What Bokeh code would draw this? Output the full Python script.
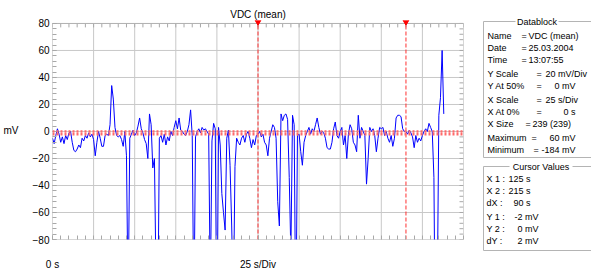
from bokeh.plotting import figure
from bokeh.models import Range1d, FixedTicker, Span
from bokeh.layouts import row, column
from bokeh.embed import file_html
from bokeh.resources import INLINE
from bokeh.core.properties import value

# ---------------- data ----------------
vdc_mv = [
    -5, -9, -3, 2, -2, -8, -4, -9, -3, -6, -1, 0, -8, -14, -15, -13, -10, -12, -5, -7,
    -3, -5, -1, -4, -2, -6, -18, -8, 0, -5, -11, -11, -3, -2, -3, 5, 34, 24, 3, -3,
    -4, -3, -6, -11, 0, -18, -130, -5, -2, 1, -3, -1, 4, 10, 2, -1, -6, -9, -20, 13,
    5, -27, -20, -110, -150, -5, -3, -8, -2, -10, -4, -7, 0, -3, 3, 8, 2, 10, 1, 0,
    -2, -3, 0, 5, 16, -3, -140, -4, 0, 2, -1, 3, 1, 2, 0, -2, -120, -7, 6, 2,
    -160, 3, -10, -46, -60, -73, -5, 1, -25, -70, -130, -26, -5, -8, -10, -5, -3, -8, -2, 0,
    -5, -12, -6, -10, -3, -2, 0, -4, -2, -8, -10, -18, -5, 0, 5, 3, -5, -52, -70, 13,
    8, 12, 13, 9, -34, -90, 12, 5, -150, -3, -2, -15, -25, -8, -3, 0, 3, -2, 2, 0,
    5, 10, 3, -2, 0, -1, -5, -12, -13, -13, -8, 2, 7, -3, -5, 0, 3, -10, -3, -20,
    -2, 5, 2, -8, -10, -15, 12, -5, 3, 0, -3, -39, -20, 3, 0, 2, -3, -15, -5, 3,
    2, 3, -3, 0, -5, -8, -3, -11, -5, 10, 12, 12, 11, 2, 0, 0, -2, 1, -1, -4,
    -12, -3, -8, -5, -7, -3, 0, 2, 0, 6, 3, 0, -34, -184, -130, 12, 25, 60, 13,
]
time_s = list(range(len(vdc_mv)))

y_ticks = [-80, -60, -40, -20, 0, 20, 40, 60, 80]
y_minor = list(range(-80, 81, 4))
x_ticks = [0, 25, 50, 75, 100, 125, 150, 175, 200, 225, 250]
x_minor = list(range(0, 251, 5))

cursor_x = [125, 215]
cursor_y = [-2, 0]

title_text = "VDC (mean)"
y_unit = "mV"
x_axis_ticks = [0, 125]
x_axis_labels = ["0 s", "25 s/Div"]

datablock_labels = ["Name", "Date", "Time", "Y Scale", "Y At 50%", "X Scale", "X At 0%", "X Size", "Maximum", "Minimum"]
datablock_values = ["VDC (mean)", "25.03.2004", "13:07:55", "20 mV/Div", "0 mV", "25 s/Div", "0 s", "239 (239)", "60 mV", "-184 mV"]
cursor_labels = ["X 1 :", "X 2 :", "dX :", "Y 1 :", "Y 2 :", "dY :"]
cursor_values = ["125 s", "215 s", "90 s", "-2 mV", "0 mV", "2 mV"]

FONT = "Liberation Sans"
PX_PER_MV = 219 / 160.0          # frame pixels per mV
HEADROOM = 3 / PX_PER_MV          # room above the top border for cursor markers
TICK_MV = 4 / PX_PER_MV
TICK_S = 4 / (411 / 250)

# ---------------- main plot ----------------
p = figure(width=478, height=272, x_range=Range1d(x_ticks[0], x_ticks[-1]),
           y_range=Range1d(y_ticks[0], y_ticks[-1] + HEADROOM),
           min_border_left=52, min_border_right=15, min_border_top=20, min_border_bottom=30,
           output_backend="svg", toolbar_location=None, title=title_text)
p.outline_line_color = None
p.grid.visible = False
p.title.align = "center"
p.title.text_font = FONT
p.title.text_font_size = "10px"
p.title.text_font_style = "normal"
p.title.text_color = "black"
p.title.standoff = 1

grid_col = "#c8c8c8"
frame_col = "#b0b0b0"
tick_col = "#a8a8a8"
x0, x1 = x_ticks[0], x_ticks[-1]
y0, y1 = y_ticks[0], y_ticks[-1]
inner_x = x_ticks[1:-1]
inner_y = [t for t in y_ticks if t not in (y0, y1)]

# grid
p.segment(x0=inner_x, y0=[y0] * len(inner_x), x1=inner_x, y1=[y1] * len(inner_x),
          line_color=grid_col, line_width=1)
p.segment(x0=[x0] * len(inner_y), y0=inner_y, x1=[x1] * len(inner_y), y1=inner_y,
          line_color=grid_col, line_width=1)

# inner minor ticks on top and right edges
p.segment(x0=x_minor, y0=[y1] * len(x_minor), x1=x_minor, y1=[y1 - TICK_MV] * len(x_minor),
          line_color=tick_col, line_width=1)
p.segment(x0=[x1] * len(y_minor), y0=y_minor, x1=[x1 - TICK_S] * len(y_minor), y1=y_minor,
          line_color=tick_col, line_width=1)

# frame
p.quad(left=[x0], right=[x1], bottom=[y0], top=[y1], fill_color=None,
       line_color=frame_col, line_width=1)

# left axis
ya = p.yaxis[0]
ya.ticker = FixedTicker(ticks=y_ticks, minor_ticks=y_minor)
ya.axis_line_color = None
ya.major_tick_out = 0
ya.major_tick_in = 4
ya.minor_tick_out = 0
ya.minor_tick_in = 4
ya.major_tick_line_color = tick_col
ya.minor_tick_line_color = tick_col
ya.major_label_text_font = FONT
ya.major_label_text_font_size = "10px"
ya.major_label_text_color = "black"
ya.major_label_standoff = 3
ya.axis_label = y_unit
ya.axis_label_orientation = "horizontal"
ya.axis_label_text_font = FONT
ya.axis_label_text_font_size = "10px"
ya.axis_label_text_font_style = "normal"
ya.axis_label_text_color = "black"
ya.axis_label_standoff = 11

# bottom axis
xa = p.xaxis[0]
xa.ticker = FixedTicker(ticks=x_axis_ticks, minor_ticks=x_minor)
xa.major_label_overrides = dict(zip(x_axis_ticks, x_axis_labels))
xa.axis_line_color = None
xa.major_tick_out = 0
xa.major_tick_in = 4
xa.minor_tick_out = 0
xa.minor_tick_in = 4
xa.major_tick_line_color = tick_col
xa.minor_tick_line_color = tick_col
xa.major_label_text_font = FONT
xa.major_label_text_font_size = "10px"
xa.major_label_text_color = "black"
xa.major_label_standoff = 19

# horizontal cursors
for cy in cursor_y:
    p.add_layout(Span(location=cy, dimension="width", line_color="#ff6a6a",
                      line_width=2.5, line_dash="2 2"))

p.line(time_s, vdc_mv, line_color="#0000ff", line_width=1)

# vertical cursors with markers
p.segment(x0=cursor_x, y0=[y0] * 2, x1=cursor_x, y1=[y1] * 2, line_color="#ff3030",
          line_width=1, line_dash="4 2")
p.scatter(x=cursor_x, y=[y1 + HEADROOM * 0.55] * 2, marker="inverted_triangle", size=6,
          fill_color="#ff0000", line_color="#ff0000")

# ---------------- side panel ----------------
q = figure(width=113, height=272, x_range=Range1d(478, 591), y_range=Range1d(272, 0),
           min_border=0, x_axis_location=None, y_axis_location=None,
           output_backend="svg", toolbar_location=None)
q.grid.visible = False
q.outline_line_color = None

box_col = "#b4b4b4"
q.multi_line(xs=[[515, 483, 483, 600], [558, 600]], ys=[[21, 21, 157, 157], [21, 21]],
             line_color=box_col, line_width=1)
q.multi_line(xs=[[509, 483, 483, 600], [572, 600]], ys=[[166, 166, 250, 250], [166, 166]],
             line_color=box_col, line_width=1)

TS = "9px"


def txt(xs, ys, texts, align="left"):
    q.text(x=xs, y=ys, text=texts, text_font=value(FONT), text_font_size=TS,
           text_align=align, text_baseline="middle", text_color="black")


txt([536.5], [21], ["Datablock"], "center")
txt([540.5], [166], ["Cursor Values"], "center")

row_y = [35, 47, 59, 73, 85, 99, 111, 123, 137, 149]
txt([487] * len(datablock_labels), row_y, datablock_labels)
eq_x = [521, 521, 521, 536, 536, 536, 536, 525, 531, 533]
txt(eq_x, row_y, ["="] * len(row_y))
left_rows = [0, 1, 2, 3, 5, 7]
left_x = [528, 528, 528, 545, 545, 532]
txt(left_x, [row_y[i] for i in left_rows], [datablock_values[i] for i in left_rows])
right_rows = [4, 6, 8, 9]
txt([575] * len(right_rows), [row_y[i] for i in right_rows],
    [datablock_values[i] for i in right_rows], "right")

cur_y = [178, 190, 202, 216, 228, 240]
txt([486] * 6, cur_y, cursor_labels)
txt([530, 530, 530, 538, 538, 538], cur_y, cursor_values, "right")

layout = row(p, column(q))
open("out.html", "w").write(file_html(layout, INLINE))
